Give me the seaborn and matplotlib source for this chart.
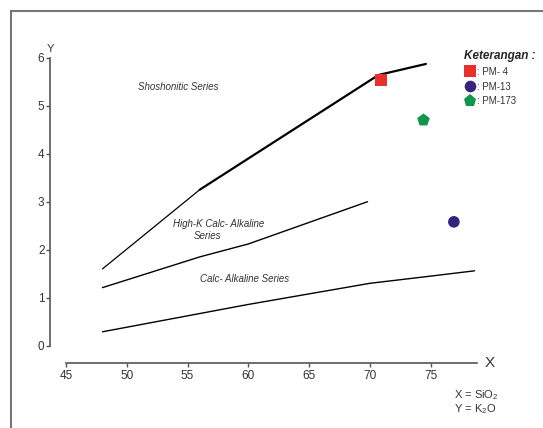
import matplotlib
matplotlib.use('Agg')
import matplotlib.pyplot as plt
import pandas as pd
import seaborn as sns
from matplotlib.patches import Rectangle

# boundary lines of the K2O vs SiO2 diagram
upper_thin_x = [48.0, 56.0]
upper_thin_y = [1.60, 3.25]
upper_thick_x = [56.0, 70.7, 74.6]
upper_thick_y = [3.25, 5.64, 5.87]
middle_x = [48.0, 56.0, 60.0, 69.8]
middle_y = [1.21, 1.85, 2.12, 3.00]
lower_x = [48.0, 60.0, 70.0, 75.0, 78.6]
lower_y = [0.29, 0.86, 1.30, 1.45, 1.56]

# samples
samples = ['PM-4', 'PM-13', 'PM-173']
sio2 = [70.9, 76.9, 74.4]
k2o = [5.54, 2.58, 4.70]
sample_colors = ['#e8302c', '#34237f', '#10964a']
sample_markers = ['s', 'o', 'p']
legend_labels = [': PM- 4', ': PM-13', ': PM-173']

x_ticks = [45, 50, 55, 60, 65, 70, 75]
y_ticks = [0, 1, 2, 3, 4, 5, 6]

sns.set_style('white')
plt.rcParams['font.family'] = ['Liberation Sans', 'DejaVu Sans']
plt.rcParams['mathtext.fontset'] = 'custom'
plt.rcParams['mathtext.rm'] = 'Liberation Sans'

W, H = 543, 428
fig = plt.figure(figsize=(W / 100, H / 100), dpi=100)


def fx(px):
    return px / W


def fy(py):
    return 1 - py / H


ax = fig.add_axes([fx(66), fy(345.7), fx(479.4) - fx(66), fy(57.7) - fy(345.7)])
ax.set_xlim(45, 79)
ax.set_ylim(0, 6)

sns.lineplot(x=upper_thin_x, y=upper_thin_y, ax=ax, color='black', lw=0.9,
             estimator=None, sort=False)
sns.lineplot(x=upper_thick_x, y=upper_thick_y, ax=ax, color='black', lw=1.6,
             estimator=None, sort=False)
sns.lineplot(x=middle_x, y=middle_y, ax=ax, color='black', lw=1.0,
             estimator=None, sort=False)
sns.lineplot(x=lower_x, y=lower_y, ax=ax, color='black', lw=1.0,
             estimator=None, sort=False)

df = pd.DataFrame({'SiO2': sio2, 'K2O': k2o, 'sample': samples})
sns.scatterplot(data=df, x='SiO2', y='K2O', hue='sample', style='sample',
                size='sample', sizes={'PM-4': 68, 'PM-13': 70, 'PM-173': 90},
                palette=dict(zip(samples, sample_colors)),
                markers=dict(zip(samples, sample_markers)),
                linewidth=0, ax=ax, clip_on=False, zorder=5)

# legend
handles, _ = ax.get_legend_handles_labels()
leg = ax.legend(handles[-3:], legend_labels, title='Keterangan :', frameon=False,
                loc='upper left', bbox_to_anchor=(fx(459), fy(45)),
                bbox_transform=fig.transFigure, handletextpad=0.1,
                labelspacing=0.5, borderpad=0, handlelength=1.3,
                fontsize=7, title_fontsize=8.5)
leg.get_title().set_fontweight('bold')
leg.get_title().set_fontstyle('italic')
leg._legend_box.align = 'left'
for t in leg.get_texts():
    t.set_color('#333333')

# series labels
lab = dict(style='italic', fontsize=7, color='#333333', ha='center', va='center')
ax.text(54.2, 5.38, 'Shoshonitic Series', **lab)
ax.text(57.55, 2.54, 'High-K Calc- Alkaline', **lab)
ax.text(56.65, 2.29, 'Series', **lab)
ax.text(59.65, 1.40, 'Calc- Alkaline Series', **lab)

# axes styling: detached spines
for side in ['top', 'right']:
    ax.spines[side].set_visible(False)
ax.spines['left'].set_position(('outward', 11.5))
ax.spines['bottom'].set_position(('outward', 12.2))
ax.spines['left'].set_bounds(0, 6)
ax.spines['bottom'].set_bounds(45, 78.8)
for side in ['left', 'bottom']:
    ax.spines[side].set_color('#555555')
    ax.spines[side].set_linewidth(1.2)
ax.set_xticks(x_ticks)
ax.set_yticks(y_ticks)
ax.tick_params(axis='both', direction='out', length=3, width=1, color='#555555',
               labelsize=8.5, labelcolor='#333333', pad=2)
ax.tick_params(axis='y', left=True, pad=1)
ax.tick_params(axis='x', bottom=True)
ax.set_xlabel('')
ax.set_ylabel('')

fig.text(fx(50), fy(49.5), 'Y', fontsize=8, color='#333333', ha='center', va='center')
fig.text(fx(490), fy(362.7), 'X', fontsize=11, color='#333333', ha='center', va='center')
fig.text(fx(454), fy(395), 'X = SiO$_2$', fontsize=8, color='#333333', ha='left', va='center')
fig.text(fx(454), fy(409), 'Y = K$_2$O', fontsize=8, color='#333333', ha='left', va='center')

# outer frame
fig.patches.append(Rectangle((fx(11), fy(440)), fx(545) - fx(11), fy(11) - fy(440),
                             transform=fig.transFigure, fill=False,
                             edgecolor='#777777', lw=1.5))

fig.savefig('out.png', dpi=100)
